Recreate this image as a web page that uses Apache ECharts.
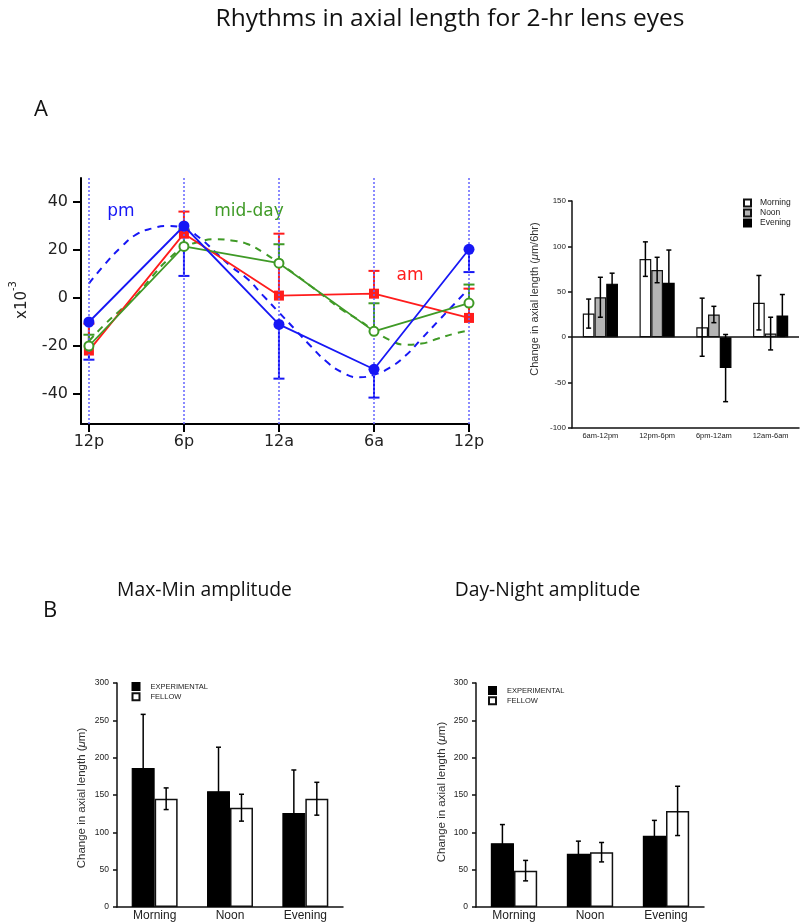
<!DOCTYPE html>
<html>
<head>
<meta charset="utf-8">
<script src="https://cdn.jsdelivr.net/npm/echarts@6/dist/echarts.min.js"></script>
<style>
html,body{margin:0;padding:0;background:#fff;}
#c{width:800px;height:922px;}
</style>
</head>
<body>
<div id="c"></div>
<script>
// ---------- Panel A (left): rhythms ----------
const hourTicks = [0, 6, 12, 18, 24];
const hourTickLabels = ['12p', '6p', '12a', '6a', '12p'];
const yTicksA = [-40, -20, 0, 20, 40];

const pmValues = [-10, 30, -11, -29.7, 20.3];
const pmErrDown = [15.7, 20.8, 22.6, 11.8, 9.5];
const amValues = [-21.9, 26.8, 1.0, 1.8, -8.3];
const amErrUp = [11.2, 9.2, 25.8, 9.5, 12.2];
const middayValues = [-20, 21.5, 14.5, -13.9, -2.1];
const middayErrUp = [4.7, 7.2, 7.9, 11.7, 7.7];

const fitHours = [0,1,2,3,4,5,6,7,8,9,10,11,12,13,14,15,16,17,18,19,20,21,22,23,24];
const pmFit = [6,14,21,26.5,29,30,29,25,19,13,8,1,-6,-13,-20,-26.5,-31,-33,-32,-29,-24,-17,-10,-3,4];
const middayFit = [-18,-11,-5,1,9,16,21,23.5,24.5,24,22.5,19,14.5,10,5,0,-5,-9,-13.5,-17.5,-19.5,-19,-17,-15,-13.5];

// ---------- Panel A (right): change per 6 hr ----------
const periodCats = ['6am-12pm', '12pm-6pm', '6pm-12am', '12am-6am'];
const morningVals = [26, 86, 11, 38];
const morningErr = [16, 19, 32, 30];
const noonVals = [44, 74, 25, 4];
const noonErr = [22, 14, 9, 18];
const eveningVals = [59, 60, -34, 24];
const eveningErr = [11.5, 36, 37, 23];

// ---------- Panel B ----------
const ampCats = ['Morning', 'Noon', 'Evening'];
const maxMinExp = [186, 155, 126];
const maxMinExpErr = [72, 59, 57.5];
const maxMinFellow = [145, 133, 145];
const maxMinFellowErr = [14.5, 18, 22];
const dayNightExp = [85.4, 71.2, 95.5];
const dayNightExpErr = [25, 17, 20.5];
const dayNightFellow = [48.7, 73.4, 128.7];
const dayNightFellowErr = [13.7, 13, 33];

const BLUE = '#1717f5', RED = '#ff1c1c', GREEN = '#3f9a26', DOT = '#6464ff';
const SANS = 'Liberation Sans, Arial, sans-serif';
const LF = 'DejaVu Sans, sans-serif';

const chart = echarts.init(document.getElementById('c'), null, {renderer: 'canvas'});

function lineErr(color) {
  return function (params, api) {
    const x = api.value(0), lo = api.value(1), hi = api.value(2), capHi = api.value(3);
    const p1 = api.coord([x, lo]), p2 = api.coord([x, hi]);
    const cy = capHi ? p2[1] : p1[1];
    return {type: 'group', children: [
      {type: 'line', shape: {x1: p1[0], y1: p1[1], x2: p2[0], y2: p2[1]}, style: {stroke: color, lineWidth: 2}},
      {type: 'line', shape: {x1: p1[0] - 5.5, y1: cy, x2: p1[0] + 5.5, y2: cy}, style: {stroke: color, lineWidth: 2}}
    ]};
  };
}
function barErr(nBars, idx, gap, cap, lw) {
  return function (params, api) {
    const c = api.value(0), v = api.value(1), e = api.value(2);
    const bw = api.size([1, 0])[0];
    const w = bw * (1 - gap) / nBars;
    const off = (idx - (nBars - 1) / 2) * w;
    const t = api.coord([c, v + e]), b = api.coord([c, v - e]);
    const x = t[0] + off;
    return {type: 'group', children: [
      {type: 'line', shape: {x1: x, y1: t[1], x2: x, y2: b[1]}, style: {stroke: '#000', lineWidth: lw}},
      {type: 'line', shape: {x1: x - cap / 2, y1: t[1], x2: x + cap / 2, y2: t[1]}, style: {stroke: '#000', lineWidth: lw}},
      {type: 'line', shape: {x1: x - cap / 2, y1: b[1], x2: x + cap / 2, y2: b[1]}, style: {stroke: '#000', lineWidth: lw}}
    ]};
  };
}
function errData(vals, errs) { return vals.map((v, i) => [i, v, errs[i]]); }

const catAxisBase = (grid, data, fs, margin, tickLen) => ({
  gridIndex: grid, type: 'category', data: data, position: 'bottom',
  axisLine: {onZero: false, lineStyle: {color: '#111', width: 1.5}},
  axisTick: {length: tickLen, lineStyle: {color: '#111', width: 1.5}},
  axisLabel: {fontSize: fs, fontFamily: SANS, color: '#222', margin: margin},
  splitLine: {show: false}
});
const valAxisBase = (grid, min, max, fs, margin) => ({
  gridIndex: grid, type: 'value', min: min, max: max, interval: 50,
  axisLine: {show: true, lineStyle: {color: '#111', width: 1.5}},
  axisTick: {show: true, length: 4, lineStyle: {color: '#111', width: 1.5}},
  axisLabel: {fontSize: fs, fontFamily: SANS, color: '#222', margin: margin},
  splitLine: {show: false}
});

const legendBase = {
  orient: 'vertical', icon: 'rect', itemWidth: 7, itemHeight: 7, itemGap: 1, padding: 0,
  selectedMode: false
};

const option = {
  animation: false,
  backgroundColor: '#fff',
  grid: [
    {left: 81, top: 178, width: 388, height: 246},
    {left: 572, top: 201, width: 227, height: 227},
    {left: 117, top: 683, width: 226, height: 226},
    {left: 476, top: 683, width: 228, height: 226}
  ],
  legend: [
    Object.assign({}, legendBase, {data: ['Morning', 'Noon', 'Evening'], left: 743, top: 198.5,
      textStyle: {fontSize: 8.5, fontFamily: SANS, color: '#222', lineHeight: 7, padding: [0, 0, 0, 4]}}),
    Object.assign({}, legendBase, {data: ['EXPERIMENTAL', 'FELLOW'], left: 131.5, top: 682,
      itemGap: 1.3, textStyle: {fontSize: 7.5, fontFamily: SANS, color: '#222', lineHeight: 7, padding: [0, 0, 0, 6]}}),
    Object.assign({}, legendBase, {data: ['EXPERIMENTAL', 'FELLOW'], left: 488, top: 686,
      itemGap: 1.3, textStyle: {fontSize: 7.5, fontFamily: SANS, color: '#222', lineHeight: 7, padding: [0, 0, 0, 6]}})
  ],
  xAxis: [
    {
      gridIndex: 0, type: 'value', min: -0.5, max: 24,
      axisLine: {onZero: false, lineStyle: {color: '#000', width: 2}},
      axisTick: {customValues: hourTicks, length: 8, lineStyle: {color: '#000', width: 2}},
      axisLabel: {customValues: hourTicks, formatter: v => hourTickLabels[hourTicks.indexOf(v)],
        fontSize: 16, fontFamily: LF, color: '#222', margin: 10},
      splitLine: {show: false}
    },
    catAxisBase(1, periodCats, 7.5, 4, 4),
    catAxisBase(2, ampCats, 12, 3, 5),
    catAxisBase(3, ampCats, 12, 3, 5)
  ],
  yAxis: [
    {
      gridIndex: 0, type: 'value', min: -52.5, max: 50,
      axisLine: {show: true, onZero: false, lineStyle: {color: '#000', width: 2}},
      axisTick: {show: true, customValues: yTicksA, length: 8, lineStyle: {color: '#000', width: 2}},
      axisLabel: {customValues: yTicksA, fontSize: 16, fontFamily: LF, color: '#222', margin: 13},
      splitLine: {show: false}
    },
    valAxisBase(1, -100, 150, 8, 6),
    valAxisBase(2, 0, 300, 8.5, 8),
    valAxisBase(3, 0, 300, 8.5, 8)
  ],
  graphic: [
    {type: 'text', x: 450, y: 19, style: {text: 'Rhythms in axial length for 2-hr lens eyes', font: '24.5px "Open Sans", sans-serif', fill: '#111', align: 'center', verticalAlign: 'middle'}},
    {type: 'text', x: 41, y: 110, style: {text: 'A', font: '22px "Open Sans", sans-serif', fill: '#111', align: 'center', verticalAlign: 'middle'}},
    {type: 'text', x: 50, y: 611, style: {text: 'B', font: '22px "Open Sans", sans-serif', fill: '#111', align: 'center', verticalAlign: 'middle'}},
    {type: 'text', x: 204.5, y: 591, style: {text: 'Max-Min amplitude', font: '19.3px "Open Sans", sans-serif', fill: '#111', align: 'center', verticalAlign: 'middle'}},
    {type: 'text', x: 547.5, y: 591, style: {text: 'Day-Night amplitude', font: '19.3px "Open Sans", sans-serif', fill: '#111', align: 'center', verticalAlign: 'middle'}},
    {type: 'text', x: 121, y: 212, style: {text: 'pm', font: '17px ' + LF, fill: BLUE, align: 'center', verticalAlign: 'middle'}},
    {type: 'text', x: 249, y: 212, style: {text: 'mid-day', font: '17px ' + LF, fill: GREEN, align: 'center', verticalAlign: 'middle'}},
    {type: 'text', x: 410, y: 276, style: {text: 'am', font: '17px ' + LF, fill: RED, align: 'center', verticalAlign: 'middle'}},
    {type: 'text', x: 19, y: 300, rotation: Math.PI / 2, style: {
      text: '{a|x10}{b|-3}', align: 'center', verticalAlign: 'middle',
      rich: {a: {fontSize: 15, fontFamily: LF, fill: '#222', lineHeight: 22, verticalAlign: 'bottom'},
             b: {fontSize: 10, fontFamily: LF, fill: '#222', lineHeight: 22, verticalAlign: 'top'}}}},
    {type: 'text', x: 535, y: 299, rotation: Math.PI / 2, style: {
      text: '{n|Change in axial length (}{i|μ}{n|m/6hr)}', align: 'center', verticalAlign: 'middle',
      rich: {n: {fontSize: 11, fontFamily: SANS, fill: '#333'}, i: {fontSize: 11, fontFamily: SANS, fontStyle: 'italic', fill: '#333'}}}},
    {type: 'text', x: 82, y: 798, rotation: Math.PI / 2, style: {
      text: '{n|Change in axial length (}{i|μ}{n|m)}', align: 'center', verticalAlign: 'middle',
      rich: {n: {fontSize: 11.5, fontFamily: SANS, fill: '#333'}, i: {fontSize: 11.5, fontFamily: SANS, fontStyle: 'italic', fill: '#333'}}}},
    {type: 'text', x: 442, y: 792, rotation: Math.PI / 2, style: {
      text: '{n|Change in axial length (}{i|μ}{n|m)}', align: 'center', verticalAlign: 'middle',
      rich: {n: {fontSize: 11.5, fontFamily: SANS, fill: '#333'}, i: {fontSize: 11.5, fontFamily: SANS, fontStyle: 'italic', fill: '#333'}}}}
  ],
  series: [
    // ----- Panel A left -----
    {
      name: 'pm fit', type: 'line', xAxisIndex: 0, yAxisIndex: 0, smooth: true, showSymbol: false, silent: true,
      data: fitHours.map((h, i) => [h, pmFit[i]]),
      lineStyle: {color: BLUE, width: 2, type: [7, 6]}, z: 2,
      markLine: {silent: true, symbol: ['none', 'none'], label: {show: false},
        lineStyle: {color: DOT, width: 1.5, type: [2, 2]},
        data: hourTicks.map(h => ({xAxis: h}))}
    },
    {
      name: 'mid-day fit', type: 'line', xAxisIndex: 0, yAxisIndex: 0, smooth: true, showSymbol: false, silent: true,
      data: fitHours.map((h, i) => [h, middayFit[i]]),
      lineStyle: {color: GREEN, width: 2, type: [7, 6]}, z: 2
    },
    {
      name: 'pm err', type: 'custom', xAxisIndex: 0, yAxisIndex: 0, renderItem: lineErr(BLUE), z: 3,
      encode: {x: 0, y: [1, 2]},
      data: pmValues.map((v, i) => [hourTicks[i], v - pmErrDown[i], v, 0])
    },
    {
      name: 'am err', type: 'custom', xAxisIndex: 0, yAxisIndex: 0, renderItem: lineErr(RED), z: 3,
      encode: {x: 0, y: [1, 2]},
      data: amValues.map((v, i) => [hourTicks[i], v, v + amErrUp[i], 1])
    },
    {
      name: 'mid-day err', type: 'custom', xAxisIndex: 0, yAxisIndex: 0, renderItem: lineErr(GREEN), z: 3,
      encode: {x: 0, y: [1, 2]},
      data: middayValues.map((v, i) => [hourTicks[i], v, v + middayErrUp[i], 1])
    },
    {
      name: 'am', type: 'line', xAxisIndex: 0, yAxisIndex: 0, symbol: 'rect', symbolSize: 10,
      data: amValues.map((v, i) => [hourTicks[i], v]),
      lineStyle: {color: RED, width: 1.8}, itemStyle: {color: RED}, z: 4
    },
    {
      name: 'mid-day', type: 'line', xAxisIndex: 0, yAxisIndex: 0, symbol: 'emptyCircle', symbolSize: 9,
      data: middayValues.map((v, i) => [hourTicks[i], v]),
      lineStyle: {color: GREEN, width: 1.8}, itemStyle: {color: GREEN, borderWidth: 1.6}, z: 5
    },
    {
      name: 'pm', type: 'line', xAxisIndex: 0, yAxisIndex: 0, symbol: 'circle', symbolSize: 11,
      data: pmValues.map((v, i) => [hourTicks[i], v]),
      lineStyle: {color: BLUE, width: 1.8}, itemStyle: {color: BLUE}, z: 6
    },
    // ----- Panel A right -----
    {
      name: 'Morning', type: 'bar', xAxisIndex: 1, yAxisIndex: 1, data: morningVals,
      barGap: '0%', barCategoryGap: '38%',
      itemStyle: {color: '#fff', borderColor: '#111', borderWidth: 1.2},
      markLine: {silent: true, symbol: ['none', 'none'], label: {show: false},
        lineStyle: {color: '#111', width: 1.5, type: 'solid'}, data: [{yAxis: 0}]}
    },
    {
      name: 'Noon', type: 'bar', xAxisIndex: 1, yAxisIndex: 1, data: noonVals,
      barGap: '0%', barCategoryGap: '38%',
      itemStyle: {color: '#b4b4b4', borderColor: '#111', borderWidth: 1.2}
    },
    {
      name: 'Evening', type: 'bar', xAxisIndex: 1, yAxisIndex: 1, data: eveningVals,
      barGap: '0%', barCategoryGap: '38%',
      itemStyle: {color: '#000', borderColor: '#000', borderWidth: 1.2}
    },
    {type: 'custom', xAxisIndex: 1, yAxisIndex: 1, renderItem: barErr(3, 0, 0.38, 5, 1.5), encode: {x: 0, y: 1}, data: errData(morningVals, morningErr), z: 5},
    {type: 'custom', xAxisIndex: 1, yAxisIndex: 1, renderItem: barErr(3, 1, 0.38, 5, 1.5), encode: {x: 0, y: 1}, data: errData(noonVals, noonErr), z: 5},
    {type: 'custom', xAxisIndex: 1, yAxisIndex: 1, renderItem: barErr(3, 2, 0.38, 5, 1.5), encode: {x: 0, y: 1}, data: errData(eveningVals, eveningErr), z: 5},
    // ----- Panel B left: Max-Min -----
    {
      name: 'EXPERIMENTAL', type: 'bar', xAxisIndex: 2, yAxisIndex: 2, data: maxMinExp,
      barGap: '0%', barCategoryGap: '39%', itemStyle: {color: '#000', borderColor: '#000', borderWidth: 1.2}
    },
    {
      name: 'FELLOW', type: 'bar', xAxisIndex: 2, yAxisIndex: 2, data: maxMinFellow,
      barGap: '0%', barCategoryGap: '39%', itemStyle: {color: '#fff', borderColor: '#111', borderWidth: 1.5}
    },
    {type: 'custom', xAxisIndex: 2, yAxisIndex: 2, renderItem: barErr(2, 0, 0.39, 5, 1.5), encode: {x: 0, y: 1}, data: errData(maxMinExp, maxMinExpErr), z: 5},
    {type: 'custom', xAxisIndex: 2, yAxisIndex: 2, renderItem: barErr(2, 1, 0.39, 5, 1.5), encode: {x: 0, y: 1}, data: errData(maxMinFellow, maxMinFellowErr), z: 5},
    // ----- Panel B right: Day-Night -----
    {
      name: 'EXPERIMENTAL', type: 'bar', xAxisIndex: 3, yAxisIndex: 3, data: dayNightExp,
      barGap: '0%', barCategoryGap: '39%', itemStyle: {color: '#000', borderColor: '#000', borderWidth: 1.2}
    },
    {
      name: 'FELLOW', type: 'bar', xAxisIndex: 3, yAxisIndex: 3, data: dayNightFellow,
      barGap: '0%', barCategoryGap: '39%', itemStyle: {color: '#fff', borderColor: '#111', borderWidth: 1.5}
    },
    {type: 'custom', xAxisIndex: 3, yAxisIndex: 3, renderItem: barErr(2, 0, 0.39, 5, 1.5), encode: {x: 0, y: 1}, data: errData(dayNightExp, dayNightExpErr), z: 5},
    {type: 'custom', xAxisIndex: 3, yAxisIndex: 3, renderItem: barErr(2, 1, 0.39, 5, 1.5), encode: {x: 0, y: 1}, data: errData(dayNightFellow, dayNightFellowErr), z: 5}
  ]
};
chart.setOption(option);
</script>
</body>
</html>
